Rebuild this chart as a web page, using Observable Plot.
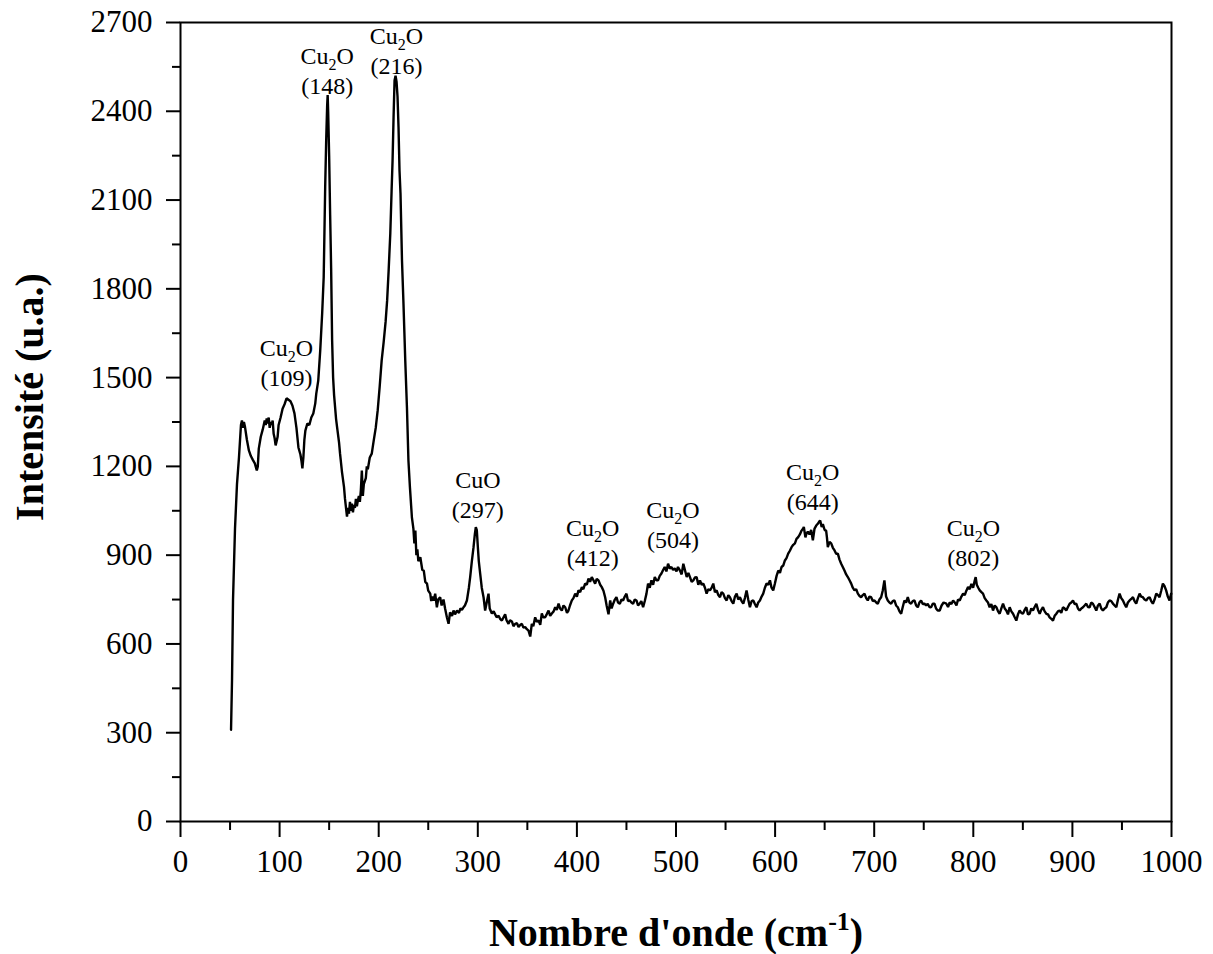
<!DOCTYPE html>
<html>
<head>
<meta charset="utf-8">
<script src="https://cdn.jsdelivr.net/npm/d3@7"></script>
<script src="https://cdn.jsdelivr.net/npm/@observablehq/plot@0.6"></script>
<style>
  html, body { margin: 0; padding: 0; background: #fff; }
  #chart svg { display: block; }
</style>
</head>
<body>
<div id="chart"></div>
<script>
// Raman shift (cm^-1)
const wavenumber = [
  51, 52, 53, 55, 57, 59, 61, 62, 63, 64,
  65, 67, 69, 71, 73, 75, 77, 78, 79, 81,
  83, 85, 86, 87, 88, 89, 90, 91, 92, 93,
  94, 95, 96, 97, 98, 99, 101, 103, 105, 107,
  109, 111, 113, 115, 117, 119, 121, 122, 123, 124,
  125, 126, 128, 130, 132, 134, 136, 137, 139, 141,
  143, 144.5, 146, 147, 148, 148.5, 149, 150, 151, 152,
  153, 154, 155, 157, 158, 160, 161, 163, 165, 166,
  168, 169, 170, 171, 172, 173, 174, 175, 176, 177,
  178, 179, 180, 181, 182, 183, 184, 185, 187, 188,
  189, 191, 193, 195, 197, 199, 201, 203, 205, 207,
  208.5, 210, 211.7, 213, 214, 215, 216, 217, 218, 219,
  220, 221, 222, 223.5, 225, 226.8, 228.5, 230, 231.5, 233.5,
  235, 236, 237, 238, 239, 240, 242, 244, 245.5, 247,
  248.7, 250, 252, 253, 254, 255.5, 257, 258.7, 260, 262,
  263.5, 265.4, 267, 268.8, 270.5, 272, 274, 275.5, 277, 279,
  281, 282.5, 284, 285.6, 287, 289, 291, 292.3, 294, 295.7,
  297, 298, 299, 300, 301, 302.4, 304, 305.8, 307.4, 309,
  310.8, 312, 314.2, 316, 317.5, 319, 321, 322.5, 324.3, 326,
  327.6, 329, 331, 332.5, 334.4, 336, 337.7, 339.5, 341.1, 343,
  344.5, 346, 347.8, 349.5, 351.2, 352.9, 354.5, 356, 357.9, 359.5,
  361.3, 363, 364.6, 366, 368, 369.5, 371.4, 373, 374.7, 376.5,
  378.1, 379.7, 381.5, 383, 384.8, 386.5, 388.2, 390, 391.5, 393,
  394.9, 396.5, 398.3, 400, 401.6, 403.3, 405, 406.5, 408.3, 410,
  411.7, 413.3, 415, 416.7, 418.4, 420, 421.8, 423.5, 425.1, 426.8,
  428.5, 430, 431.9, 433.6, 435, 436.6, 438.3, 439.9, 441.5, 443.3,
  445, 446.6, 448.3, 450, 451.6, 453.3, 455, 456.7, 458.4, 460.1,
  461.7, 463.4, 465, 466.8, 468.5, 470.2, 471.8, 473.5, 475.2, 476.9,
  478.6, 480.2, 481.9, 483.6, 485.3, 487, 488.6, 490.3, 492, 493.7,
  495.4, 497, 498.7, 500.5, 502, 504, 505.7, 507.4, 509, 510.8,
  512.5, 514.1, 515.8, 517.5, 519.2, 520.8, 522.5, 524.2, 525.9, 527.6,
  529.2, 530.9, 532.6, 534.3, 536, 537.6, 539.3, 541, 542.7, 544.4,
  546, 547.7, 549.4, 551.1, 552.8, 554.4, 556.1, 557.8, 559.5, 561.2,
  562.8, 564.5, 566.2, 567.9, 569.5, 571.2, 572.9, 574.6, 576.3, 578,
  579.6, 581.3, 583, 584.7, 586.4, 588, 589.7, 591.4, 593.1, 594.8,
  596.4, 598.1, 599.8, 601.5, 603.2, 604.9, 606.5, 608.2, 609.9, 611.5,
  613.2, 614.9, 616.6, 618.3, 620, 621.6, 623.3, 625, 626.7, 628.3,
  629, 630.6, 631.4, 633, 634.7, 636.4, 638.1, 639.8, 641.5, 643.1,
  644.8, 645.5, 647, 648.2, 650, 651.5, 652.3, 653.2, 654.9, 656.6,
  658.3, 660, 661.6, 663.3, 665, 666.7, 668.3, 670, 671.7, 673.4,
  675.1, 676.8, 678.4, 680.1, 681.8, 683.5, 685.2, 686.8, 688.5, 690.2,
  691.9, 693.5, 695.2, 696.9, 698.6, 700.3, 702, 703.6, 705.3, 707,
  708.6, 710.3, 712, 713.7, 715.4, 717.1, 718.7, 720.4, 722.1, 723.8,
  725.5, 727.2, 728.8, 730.5, 732.2, 733.9, 735.5, 737.2, 738.9, 740.6,
  742.3, 744, 745.6, 747.3, 749, 750.7, 752.4, 754, 755.7, 757.4,
  759.1, 760.8, 762.4, 764.1, 766.1, 768, 770, 772.8, 774.5, 776.2,
  777.9, 779.6, 781.3, 783, 784.6, 786.3, 788, 789.7, 791.4, 793,
  794.7, 796.4, 798.1, 799.8, 801.5, 802.4, 803.5, 805, 806.5, 808.2,
  809.8, 811.5, 813.2, 814.8, 816.5, 818.2, 819.9, 821.6, 823.3, 825,
  826.6, 828.3, 830, 831.7, 833.3, 835, 836.7, 838.4, 840.1, 841.8,
  843.4, 845.1, 846.8, 848.5, 850.1, 851.8, 853.5, 855.2, 856.9, 858.5,
  860.2, 861.9, 863.6, 865.3, 867, 868.6, 870.3, 872, 873.7, 875.4,
  877, 878.7, 880.4, 882.1, 883.8, 885.4, 887.1, 888.8, 890.5, 892.2,
  893.8, 895.5, 897.2, 898.9, 900.6, 902.2, 903.9, 905.6, 907.3, 909,
  910.7, 912.3, 914, 915.7, 917.4, 919, 920.7, 922.4, 924.1, 925.8,
  927.5, 929.1, 930.8, 932.5, 934.2, 935.8, 937.5, 939.2, 940.9, 942.6,
  944.3, 946, 947.6, 949.3, 951, 952.6, 954.3, 956, 957.7, 959.4,
  961.1, 962.7, 964.4, 966.1, 967.8, 969.4, 971.1, 972.8, 974.5, 976.2,
  977.9, 979.5, 981.2, 982.9, 984.6, 986.3, 987.9, 989.6, 991.3, 993,
  994.6, 996.3, 998, 999.7
];

// Intensity (a.u.)
const intensity = [
  310, 480, 750, 990, 1140, 1230, 1340, 1355, 1330, 1350,
  1335, 1290, 1254, 1235, 1222, 1210, 1186, 1200, 1260, 1300,
  1325, 1355, 1340, 1362, 1345, 1365, 1330, 1350, 1340, 1355,
  1310, 1295, 1271, 1285, 1300, 1340, 1365, 1395, 1410, 1430,
  1425, 1420, 1405, 1379, 1330, 1264, 1240, 1220, 1193, 1230,
  1290, 1321, 1345, 1340, 1365, 1379, 1413, 1446, 1490, 1592,
  1720, 1840, 2144, 2300, 2420, 2455, 2400, 2250, 2050, 1870,
  1626, 1500, 1440, 1360, 1333, 1280, 1243, 1180, 1130, 1090,
  1030, 1060, 1040, 1080, 1050, 1074, 1045, 1070, 1060, 1090,
  1065, 1085, 1100, 1080, 1120, 1186, 1100, 1140, 1160, 1200,
  1190, 1230, 1243, 1288, 1330, 1390, 1470, 1558, 1620, 1690,
  1760, 1860, 1987, 2130, 2234, 2380, 2504, 2520, 2500, 2450,
  2346, 2200, 2122, 1896, 1750, 1558, 1400, 1220, 1130, 1028,
  990, 940, 983, 900, 920, 880, 893, 850, 848, 810,
  804, 780, 770, 745, 760, 747, 770, 724, 750, 758,
  730, 750, 720, 690, 668, 707, 695, 713, 700, 713,
  705, 720, 715, 724, 730, 747, 790, 826, 880, 927,
  970, 995, 985, 930, 880, 838, 790, 758, 713, 740,
  770, 720, 703, 710, 700, 690, 695, 685, 679, 690,
  700, 680, 668, 680, 676, 660, 668, 670, 657, 665,
  668, 655, 657, 650, 645, 625, 668, 660, 690, 675,
  679, 665, 703, 690, 690, 700, 713, 695, 703, 710,
  724, 715, 736, 720, 713, 730, 724, 705, 713, 730,
  747, 755, 770, 760, 781, 775, 792, 785, 804, 800,
  821, 810, 826, 815, 804, 820, 815, 800, 792, 780,
  758, 730, 700, 747, 720, 736, 750, 758, 740, 736,
  750, 747, 760, 770, 745, 747, 740, 736, 750, 747,
  730, 736, 745, 724, 745, 770, 804, 790, 815, 800,
  826, 815, 815, 830, 838, 850, 860, 845, 871, 855,
  860, 850, 855, 845, 860, 848, 835, 871, 850, 826,
  840, 826, 810, 815, 825, 826, 800, 815, 800, 804,
  790, 770, 785, 781, 790, 804, 775, 781, 765, 758,
  775, 770, 755, 747, 765, 758, 745, 736, 760, 770,
  750, 758, 745, 736, 755, 781, 750, 724, 745, 747,
  735, 724, 740, 747, 760, 770, 790, 804, 800, 815,
  790, 781, 804, 830, 848, 840, 860, 865, 882, 890,
  905, 915, 927, 935, 940, 955, 961, 970, 983, 990,
  995, 960, 970, 980, 970, 985, 950, 990, 1000, 1006,
  1015, 1017, 995, 1005, 985, 983, 960, 927, 945, 940,
  925, 916, 905, 905, 885, 871, 860, 848, 835, 826,
  815, 804, 790, 781, 785, 770, 762, 758, 765, 770,
  755, 747, 760, 758, 745, 747, 740, 736, 750, 758,
  780, 815, 760, 747, 740, 736, 745, 747, 730, 724,
  710, 702, 725, 747, 740, 758, 740, 736, 745, 747,
  730, 724, 740, 747, 735, 736, 730, 736, 725, 724,
  736, 736, 720, 713, 713, 730, 740, 736, 725, 740,
  735, 747, 740, 730, 750, 747, 760, 770, 765, 780,
  792, 785, 803, 790, 815, 826, 800, 790, 781, 775,
  770, 755, 747, 740, 724, 735, 713, 730, 724, 710,
  702, 720, 736, 720, 713, 700, 724, 710, 702, 690,
  679, 700, 713, 705, 702, 715, 724, 700, 702, 720,
  713, 725, 736, 715, 702, 715, 724, 710, 702, 700,
  690, 685, 679, 695, 702, 710, 713, 705, 724, 720,
  713, 725, 736, 740, 747, 735, 736, 720, 713, 720,
  724, 730, 736, 725, 724, 740, 736, 725, 713, 730,
  736, 720, 713, 720, 724, 740, 747, 745, 736, 730,
  724, 750, 770, 755, 747, 735, 724, 740, 747, 752,
  758, 745, 736, 755, 770, 760, 758, 750, 747, 755,
  758, 745, 736, 750, 770, 765, 758, 780, 804, 795,
  781, 760, 747, 770
];

// Peak annotations
const peakSpecies  = ["Cu2O", "Cu2O", "Cu2O", "CuO", "Cu2O", "Cu2O", "Cu2O", "Cu2O"];
const peakPosition = ["(109)", "(148)", "(216)", "(297)", "(412)", "(504)", "(644)", "(802)"];
const peakLabelX   = [107, 148, 218, 300, 416, 497, 638, 800];
const peakLabelY   = [1497, 2484, 2552, 1051, 889, 950, 1078, 889];

// Axis ticks
const xTicks = [0, 100, 200, 300, 400, 500, 600, 700, 800, 900, 1000];
const xMinorTicks = [50, 150, 250, 350, 450, 550, 650, 750, 850, 950];
const yTicks = [0, 300, 600, 900, 1200, 1500, 1800, 2100, 2400, 2700];
const yMinorTicks = [150, 450, 750, 1050, 1350, 1650, 1950, 2250, 2550];

const xTitle = "Nombre d'onde (cm-1)";
const yTitle = "Intensité (u.a.)";

const spectrum = wavenumber.map((w, i) => ({w, v: intensity[i]}));
const peaks = peakLabelX.map((x, i) => ({x, y: peakLabelY[i], species: peakSpecies[i], pos: peakPosition[i]}));

const serif = "'Liberation Serif', 'Times New Roman', serif";

const chart = Plot.plot({
  width: 1213,
  height: 954,
  marginTop: 22,
  marginRight: 42,
  marginBottom: 133,
  marginLeft: 180,
  style: {fontFamily: serif, color: "#000", background: "#fff", overflow: "visible"},
  x: {domain: [0, 1000]},
  y: {domain: [0, 2700]},
  marks: [
    Plot.axisX(xTicks, {tickSize: 16, tickPadding: 12, fontSize: 31, strokeWidth: 2, label: null, tickFormat: d => String(d)}),
    Plot.axisX(xMinorTicks, {tickSize: 9, strokeWidth: 2, label: null, tickFormat: () => ""}),
    Plot.axisY(yTicks, {tickSize: 14, tickPadding: 14, fontSize: 31, strokeWidth: 2, label: null, tickFormat: d => String(d)}),
    Plot.axisY(yMinorTicks, {tickSize: 8, strokeWidth: 2, label: null, tickFormat: () => ""}),
    Plot.line(spectrum, {x: "w", y: "v", stroke: "#000", strokeWidth: 2.4, strokeLinejoin: "miter"}),
    Plot.frame({stroke: "#000", strokeWidth: 2}),
    Plot.text(peaks, {x: "x", y: "y", text: "pos", fontSize: 24, fill: "#000", lineAnchor: "middle"}),
    Plot.text(peaks, {x: "x", y: "y", text: "species", dy: -30, fontSize: 24, fill: "#000", lineAnchor: "middle"}),
    Plot.text([xTitle], {frameAnchor: "bottom", dy: 112, fontSize: 40, fontWeight: "bold", fill: "#000", textAnchor: "middle", lineAnchor: "middle"}),
    Plot.text([yTitle], {frameAnchor: "left", dx: -150, dy: -25, rotate: -90, fontSize: 40, fontWeight: "bold", fill: "#000", textAnchor: "middle", lineAnchor: "middle"})
  ]
});

// Typographic subscripts / superscripts as real text
const NS = "http://www.w3.org/2000/svg";
function tspan(txt, attrs) {
  const t = document.createElementNS(NS, "tspan");
  for (const k in attrs) t.setAttribute(k, attrs[k]);
  t.textContent = txt;
  return t;
}
chart.querySelectorAll("text").forEach(el => {
  if (el.textContent === "Cu2O") {
    el.textContent = "";
    el.appendChild(tspan("Cu", {}));
    el.appendChild(tspan("2", {"font-size": 16, dy: 6}));
    el.appendChild(tspan("O", {dy: -6}));
  } else if (el.textContent === xTitle) {
    el.textContent = "";
    el.appendChild(tspan("Nombre d'onde (cm", {}));
    el.appendChild(tspan("-1", {"font-size": 26, dy: -16}));
    el.appendChild(tspan(")", {dy: 16}));
  }
});

document.getElementById("chart").appendChild(chart);
</script>
</body>
</html>
